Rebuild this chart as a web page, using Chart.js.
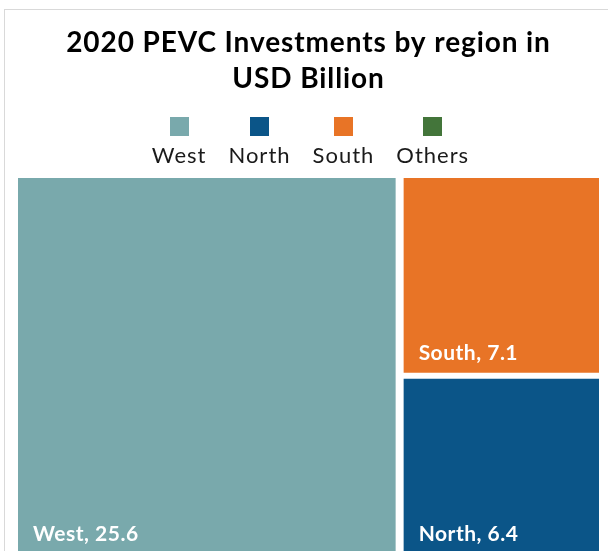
<!DOCTYPE html>
<html>
<head>
<meta charset="utf-8">
<title>2020 PEVC Investments by region</title>
<script src="https://cdn.jsdelivr.net/npm/chart.js@4.4.1/dist/chart.umd.min.js"></script>
<style>
  html, body { margin: 0; padding: 0; background: #fff; overflow: hidden; }
  .frame { position: absolute; left: 4px; top: 9px; width: 640px; height: 620px; border: 1px solid #d9d9d9; }
  .holder { position: absolute; left: 0; top: 0; width: 608px; height: 560px; }
</style>
</head>
<body>
<div class="frame"></div>
<div class="holder"><canvas id="chart"></canvas></div>
<script>
const regions = ['West', 'North', 'South', 'Others'];
const investments = [25.6, 6.4, 7.1, 0];
const regionColours = ['#79a9ac', '#0b5588', '#e87426', '#43753a'];

const FONT = 'Lato, "Open Sans", sans-serif';

// squarified treemap layout, returns tiles in fractions of the area (0..1)
function squarify(values, width, height) {
    const items = values.map((v, i) => ({ i, a: v }))
        .filter(d => d.a > 0)
        .sort((a, b) => b.a - a.a);
    const total = items.reduce((s, d) => s + d.a, 0);
    items.forEach(d => { d.a = d.a / total * width * height; });

    const out = [];
    let x = 0, y = 0, w = width, h = height;
    let row = [];

    const worst = (r, side) => {
        const s = r.reduce((t, d) => t + d.a, 0);
        let m = 0;
        r.forEach(d => {
            m = Math.max(m, side * side * d.a / (s * s), s * s / (side * side * d.a));
        });
        return m;
    };

    const layoutRow = (r) => {
        const s = r.reduce((t, d) => t + d.a, 0);
        if (w >= h) {
            const cw = s / h;
            let yy = y;
            r.forEach(d => {
                const ch = d.a / cw;
                out.push({ i: d.i, x0: x, x1: x + cw, y0: yy, y1: yy + ch });
                yy += ch;
            });
            x += cw; w -= cw;
        } else {
            const rh = s / w;
            let xx = x;
            r.forEach(d => {
                const cw = d.a / rh;
                out.push({ i: d.i, x0: xx, x1: xx + cw, y0: y, y1: y + rh });
                xx += cw;
            });
            y += rh; h -= rh;
        }
    };

    items.forEach(d => {
        const side = Math.min(w, h);
        if (row.length && worst(row.concat(d), side) > worst(row, side)) {
            layoutRow(row);
            row = [];
        }
        row.push(d);
    });
    if (row.length) layoutRow(row);

    return out.map(t => ({ i: t.i, x0: t.x0 / width, x1: t.x1 / width, y0: t.y0 / height, y1: t.y1 / height }));
}

// tiles are plain bar elements placed on the x/y linear scales
class TreemapController extends Chart.DatasetController {
    static id = 'treemap';
    static defaults = { datasetElementType: false, dataElementType: 'bar' };

    update(mode) {
        const meta = this._cachedMeta;
        this.updateElements(meta.data, 0, meta.data.length, mode);
    }

    updateElements(rects, start, count, mode) {
        const meta = this._cachedMeta;
        const xScale = meta.xScale;
        const yScale = meta.yScale;
        const area = this.chart.chartArea;
        const ds = this.getDataset();
        const tiles = squarify(ds.data, area.right - area.left, area.bottom - area.top);

        for (let i = start; i < start + count; i++) {
            const tile = tiles.find(t => t.i === i);
            let props = { x: 0, width: 0, y: 0, base: 0 };
            if (tile) {
                const left = xScale.getPixelForValue(tile.x0);
                const right = xScale.getPixelForValue(tile.x1);
                props = {
                    x: (left + right) / 2,
                    width: right - left,
                    y: yScale.getPixelForValue(tile.y0),
                    base: yScale.getPixelForValue(tile.y1)
                };
            }
            Object.assign(rects[i], props, {
                horizontal: false,
                inflateAmount: 0,
                borderSkipped: { top: false, right: false, bottom: false, left: false },
                options: {
                    backgroundColor: ds.backgroundColor[i],
                    borderColor: '#ffffff',
                    borderWidth: { top: 3, bottom: 3, left: 4, right: 4 },
                    borderRadius: 0
                }
            });
        }
    }
}
Chart.register(TreemapController);

// Century Gothic is wider than Lato, open the title up a little
const wideTitle = {
    id: 'wideTitle',
    beforeDraw(chart) { chart.ctx.letterSpacing = '0.9px'; },
    afterDraw(chart) { chart.ctx.letterSpacing = '0px'; }
};

// "Name, value" in the bottom left corner of each tile
const tileLabels = {
    id: 'tileLabels',
    afterDatasetsDraw(chart) {
        const ctx = chart.ctx;
        const meta = chart.getDatasetMeta(0);
        ctx.save();
        ctx.letterSpacing = '0.5px';
        ctx.font = 'bold 21px ' + FONT;
        ctx.fillStyle = '#ffffff';
        ctx.textBaseline = 'alphabetic';
        ctx.textAlign = 'left';
        meta.data.forEach((el, i) => {
            if (!el.width) return;
            const left = el.x - el.width / 2 + 4;
            ctx.fillText(regions[i] + ', ' + investments[i], left + 15, el.base - 16);
        });
        ctx.restore();
    }
};

// squares with the names underneath
const squareLegend = {
    id: 'squareLegend',
    afterDraw(chart) {
        const ctx = chart.ctx;
        const gap = 22;
        const box = 19;
        ctx.save();
        ctx.letterSpacing = '1px';
        ctx.font = '22px ' + FONT;
        const widths = regions.map(r => ctx.measureText(r).width);
        const total = widths.reduce((a, b) => a + b, 0) + gap * (regions.length - 1);
        let x = (chart.chartArea.left + chart.chartArea.right) / 2 - total / 2 + 2;
        regions.forEach((r, i) => {
            const cx = x + widths[i] / 2;
            ctx.fillStyle = regionColours[i];
            ctx.fillRect(Math.round(cx - box / 2), 117, box, box);
            ctx.fillStyle = '#1a1a1a';
            ctx.textAlign = 'center';
            ctx.textBaseline = 'middle';
            ctx.fillText(r, cx, 156);
            x += widths[i] + gap;
        });
        ctx.restore();
    }
};

new Chart(document.getElementById('chart'), {
    type: 'treemap',
    data: {
        labels: regions,
        datasets: [{
            label: '2020 PEVC Investments',
            data: investments,
            backgroundColor: regionColours
        }]
    },
    options: {
        responsive: true,
        maintainAspectRatio: false,
        animation: false,
        events: [],
        layout: { padding: { left: 14, right: 5, top: 0, bottom: 3 } },
        scales: {
            x: { type: 'linear', min: 0, max: 1, display: false },
            y: { type: 'linear', min: 0, max: 1, reverse: true, display: false }
        },
        plugins: {
            legend: { display: false },
            tooltip: { enabled: false },
            title: {
                display: true,
                text: ['2020 PEVC Investments by region in', 'USD Billion'],
                color: '#000000',
                font: { family: FONT, size: 28, weight: 'bold', lineHeight: 1.32 },
                padding: { top: 24, bottom: 77 }
            }
        }
    },
    plugins: [wideTitle, tileLabels, squareLegend]
});
</script>
</body>
</html>
